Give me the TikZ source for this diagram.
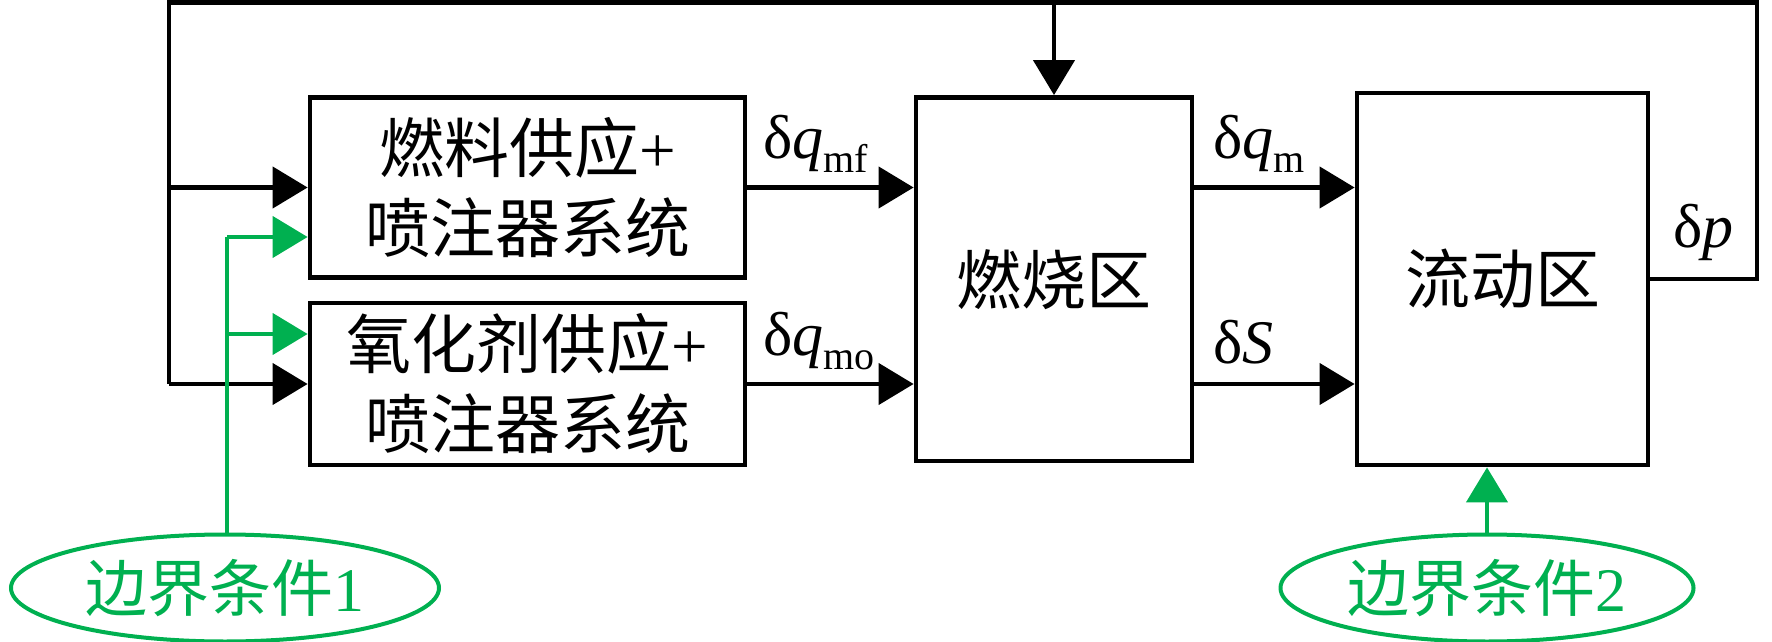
\documentclass[tikz,border=0pt]{standalone}
\usepackage{fontspec}
\setmainfont{Liberation Serif}
\newfontfamily\cjk{Noto Sans CJK SC}
\usetikzlibrary{arrows.meta,shapes.geometric}
\definecolor{bcgreen}{HTML}{00B050}
\begin{document}
\begin{tikzpicture}[x=0.5pt,y=-0.5pt,
  line width=2.2pt,
  blk/.style={draw, line width=2.4pt, rectangle, inner sep=0pt, align=center,
    font=\cjk\fontsize{32.5}{40}\selectfont},
  tri/.style={-{Triangle[length=17.5pt,width=20.5pt]}},
  grn/.style={draw=bcgreen, color=bcgreen},
  bc/.style={ellipse, draw=bcgreen, text=bcgreen, line width=2pt, inner sep=0pt,
    font=\cjk\fontsize{31}{31}\selectfont},
  lbl/.style={inner sep=0pt, anchor=base west, font=\fontsize{31}{31}\selectfont},
  subs/.style={}
]
\useasboundingbox (0,0) rectangle (1772,642);

% blocks
\node[blk, minimum width=217.5pt, minimum height=90pt] (fuel) at (527.5,187.5)
  {燃料供应{\rmfamily +}\\喷注器系统};
\node[blk, minimum width=217.5pt, minimum height=81pt] (ox) at (527.5,384)
  {氧化剂供应{\rmfamily +}\\喷注器系统};
\node[blk, minimum width=138pt, minimum height=181.75pt] (comb) at (1054,279.25) {燃烧区};
\node[blk, minimum width=145.5pt, minimum height=186pt] (flow) at (1502.5,279) {流动区};

% boundary conditions
\node[bc, minimum width=214pt, minimum height=53.5pt] (bc1) at (225,588)
  {边界条件{\rmfamily 1}};
\node[bc, minimum width=206.5pt, minimum height=53.5pt] (bc2) at (1487,588)
  {边界条件{\rmfamily 2}};

% feedback loop
\coordinate (TL) at (169,2.5);
\coordinate (TR) at (1757,2.5);
\draw (flow.east) -| (TR) -- (TL) -- (TL |- ox.west);
\draw[tri] (TL |- fuel.west) -- (fuel.west);
\draw[tri] (TL |- ox.west) -- (ox.west);
\draw[tri] (comb.north |- TR) -- (comb.north);

% forward signals
\draw[tri] (fuel.east) -- (comb.west |- fuel.east);
\draw[tri] (ox.east) -- (comb.west |- ox.east);
\draw[tri] (comb.east |- fuel.east) -- (flow.west |- fuel.east);
\draw[tri] (comb.east |- ox.east) -- (flow.west |- ox.east);

% green boundary inputs
\coordinate (G1) at (227,237);
\coordinate (G2) at (227,334);
\draw[grn] (G1 |- bc1.north) -- (G1);
\draw[grn,tri] (G1) -- (G1 -| fuel.west);
\draw[grn,tri] (G2) -- (G2 -| ox.west);
\draw[grn,tri] (bc2.north) -- (bc2.north |- flow.south);

% labels
\node[lbl] (lmf) at (761,158) {δ\textit{q}\raisebox{-7pt}{\fontsize{20}{20}\selectfont mf}};
\node[lbl] (lmo) at (761,355) {δ\textit{q}\raisebox{-7pt}{\fontsize{20}{20}\selectfont mo}};
\node[lbl] (lm) at (1211,158) {δ\textit{q}\raisebox{-7pt}{\fontsize{20}{20}\selectfont m}};
\node[lbl] (lS) at (1211,363) {δ\textit{S}};
\node[lbl] (lp) at (1671,247) {δ\textit{p}};
\end{tikzpicture}
\end{document}
